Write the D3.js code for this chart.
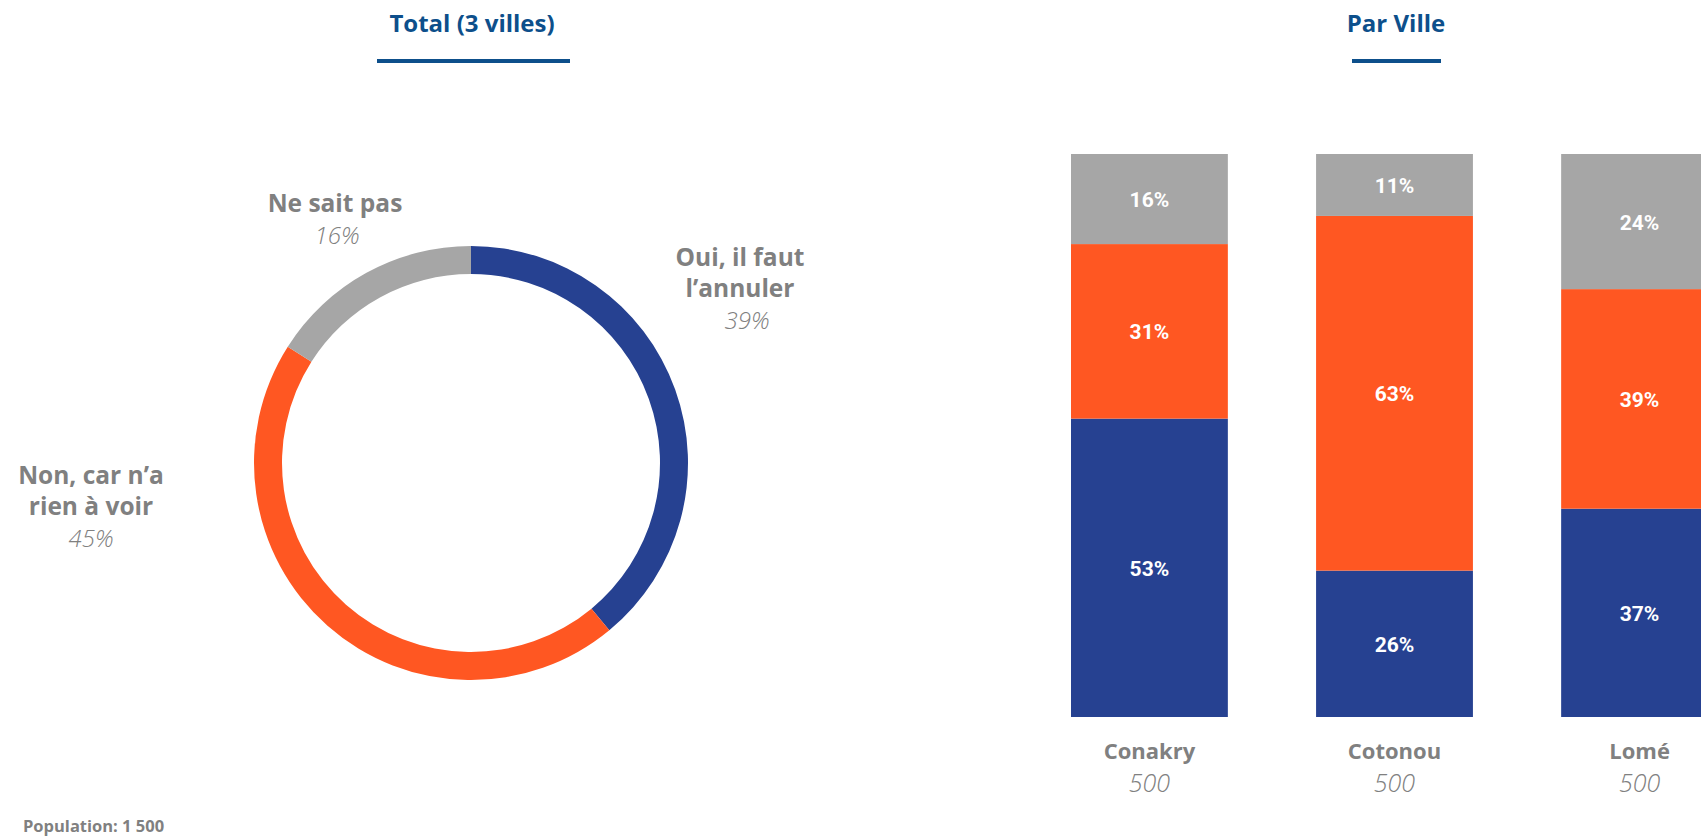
<!DOCTYPE html>
<html>
<head>
<meta charset="utf-8">
<script src="https://cdn.jsdelivr.net/npm/d3@7"></script>
<style>
  html, body { margin: 0; padding: 0; background: #ffffff; overflow: hidden; }
  svg { display: block; font-family: "Open Sans", Lato, sans-serif; }
</style>
</head>
<body>
<svg id="chart" width="1701" height="836"></svg>
<script>
// Total (3 villes): answer shares
const answers = ["Oui, il faut l’annuler", "Non, car n’a rien à voir", "Ne sait pas"];
const totalValues = [39, 45, 16];

// Par ville: one stacked bar per city
const cities = ["Conakry", "Cotonou", "Lomé"];
const cityBase = [500, 500, 500];
const ouiValues = [53, 26, 37];
const nonValues = [31, 63, 39];
const nspValues = [16, 11, 24];

const colors = ["#264191", "#ff5722", "#a6a6a6"];
const titleBlue = "#0d4f8b";
const labelGray = "#808080";

const svg = d3.select("#chart");

// ---- section titles with underline ----
function title(x, text, lineX0, lineX1) {
  svg.append("text").attr("x", x).attr("y", 32)
    .attr("text-anchor", "middle")
    .attr("font-size", 24).attr("font-weight", 700)
    .attr("fill", titleBlue).text(text);
  svg.append("line").attr("x1", lineX0).attr("x2", lineX1)
    .attr("y1", 61).attr("y2", 61)
    .attr("stroke", titleBlue).attr("stroke-width", 4);
}
title(472, "Total (3 villes)", 377, 570);
title(1396, "Par Ville", 1352, 1441);

// ---- donut ----
const cx = 471, cy = 463;
const pie = d3.pie().sort(null).value(d => d)(totalValues);
const arc = d3.arc().innerRadius(189).outerRadius(217);
const donut = svg.append("g").attr("transform", `translate(${cx},${cy})`);
donut.selectAll("path").data(pie).join("path")
  .attr("d", arc)
  .attr("fill", (d, i) => colors[i]);

// donut labels: name lines (bold) + value (italic)
const donutLabels = [
  { lines: ["Oui, il faut", "l’annuler"], x: 740, y: 266, dx: 7, v: totalValues[0] },
  { lines: ["Non, car n’a", "rien à voir"], x: 91, y: 484, dx: 0, v: totalValues[1] },
  { lines: ["Ne sait pas"], x: 335, y: 212, dx: 2, v: totalValues[2] }
];
donutLabels.forEach(l => {
  const t = svg.append("text").attr("text-anchor", "middle").attr("fill", labelGray);
  l.lines.forEach((s, k) => {
    t.append("tspan").attr("x", l.x).attr("y", l.y + k * 31)
      .attr("font-size", 24.5).attr("font-weight", 700).text(s);
  });
  t.append("tspan").attr("x", l.x + l.dx).attr("y", l.y + l.lines.length * 31 + 1)
    .attr("font-size", 24).attr("font-weight", 300).attr("font-style", "italic")
    .text(l.v + "%");
});

// ---- stacked bars ----
const rows = cities.map((c, i) => ({ city: c, oui: ouiValues[i], non: nonValues[i], nsp: nspValues[i], n: cityBase[i] }));
const keys = ["oui", "non", "nsp"];
const stack = d3.stack().keys(keys)(rows);

const x = d3.scaleBand().domain(cities).range([1071, 1718]).paddingInner(0.36).paddingOuter(0);
const y = d3.scaleLinear().domain([0, 100]).range([717, 154]);

const layers = svg.append("g").selectAll("g").data(stack).join("g")
  .attr("fill", (d, i) => colors[i]);
layers.selectAll("rect").data(d => d).join("rect")
  .attr("x", d => x(d.data.city))
  .attr("width", x.bandwidth())
  .attr("y", d => y(d[1]))
  .attr("height", d => y(d[0]) - y(d[1]));

layers.selectAll("text").data(d => d).join("text")
  .attr("x", d => x(d.data.city) + x.bandwidth() / 2)
  .attr("y", d => (y(d[0]) + y(d[1])) / 2 + 8)
  .attr("text-anchor", "middle")
  .style("font-family", "'Liberation Sans Narrow', 'Roboto', sans-serif")
  .attr("font-size", 21).attr("font-weight", 700)
  .attr("fill", "#ffffff")
  .text(d => (d[1] - d[0]) + "%");

// category labels under the bars
const cat = svg.append("g").selectAll("text").data(rows).join("text")
  .attr("text-anchor", "middle").attr("fill", labelGray);
cat.append("tspan")
  .attr("x", d => x(d.city) + x.bandwidth() / 2).attr("y", 759)
  .attr("font-size", 22).attr("font-weight", 700).text(d => d.city);
cat.append("tspan")
  .attr("x", d => x(d.city) + x.bandwidth() / 2).attr("y", 792)
  .attr("font-size", 25).attr("font-weight", 300).attr("font-style", "italic")
  .text(d => d.n);

// footnote
svg.append("text").attr("x", 23).attr("y", 832)
  .attr("font-size", 16.5).attr("font-weight", 700).attr("fill", labelGray)
  .text("Population: 1 500");
</script>
</body>
</html>
